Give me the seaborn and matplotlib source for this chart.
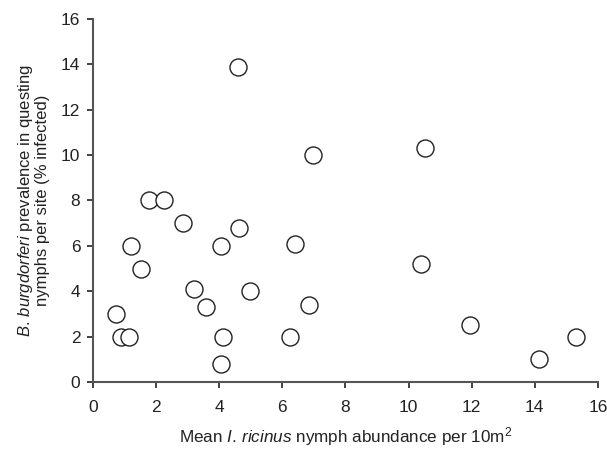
import matplotlib
matplotlib.use("Agg")
import matplotlib.pyplot as plt
import seaborn as sns
import pandas as pd

abundance = [0.74, 0.9, 1.13, 1.2, 1.53, 1.79, 2.26, 2.84, 3.2, 3.57, 4.05, 4.07, 4.12,
             4.59, 4.63, 4.98, 6.25, 6.41, 6.84, 6.97, 10.41, 10.51, 11.96, 14.14, 15.32]
prevalence = [3.0, 2.0, 2.0, 6.0, 5.0, 8.0, 8.0, 7.0, 4.1, 3.3, 0.8, 6.0, 2.0,
              13.9, 6.8, 4.0, 2.0, 6.1, 3.4, 10.0, 5.2, 10.3, 2.5, 1.0, 2.0]
x_ticks = [0, 2, 4, 6, 8, 10, 12, 14, 16]
y_ticks = [0, 2, 4, 6, 8, 10, 12, 14, 16]

df = pd.DataFrame({"abundance": abundance, "prevalence": prevalence})

sns.set_style("ticks")
plt.rcParams["font.family"] = ["Liberation Sans", "DejaVu Sans"]
plt.rcParams["mathtext.fontset"] = "custom"
plt.rcParams["mathtext.rm"] = "Liberation Sans"
plt.rcParams["mathtext.it"] = "Liberation Sans:italic"

fig = plt.figure(figsize=(6.07, 4.5), dpi=100)
ax = fig.add_axes([0.153, 0.151, 0.832, 0.807])

sns.scatterplot(data=df, x="abundance", y="prevalence", ax=ax, s=150,
                facecolor="white", edgecolor="#222222", linewidth=1.0, zorder=3)

ax.set_xlim(0, 16)
ax.set_ylim(0, 16)
ax.set_xticks(x_ticks)
ax.set_yticks(y_ticks)
ax.tick_params(axis="both", labelsize=12.5, colors="#222222", length=4, width=1.2,
               direction="out")
ax.tick_params(axis="x", pad=9)
ax.tick_params(axis="y", pad=5)
for side in ["top", "right"]:
    ax.spines[side].set_visible(False)
for side in ["left", "bottom"]:
    ax.spines[side].set_color("#555555")
    ax.spines[side].set_linewidth(1.5)

ax.set_xlabel(r"Mean $\it{I.}$$\,$$\it{ricinus}$ nymph abundance per 10m$^{2}$",
              fontsize=12.3, labelpad=7, color="#222222")
ax.set_ylabel(r"$\it{B.}$$\,$$\it{burgdorferi}$ prevalence in questing" + "\n" + "nymphs per site (% infected)",
              fontsize=12, labelpad=8, color="#222222", linespacing=1.0)

fig.savefig("out.png", dpi=100)
